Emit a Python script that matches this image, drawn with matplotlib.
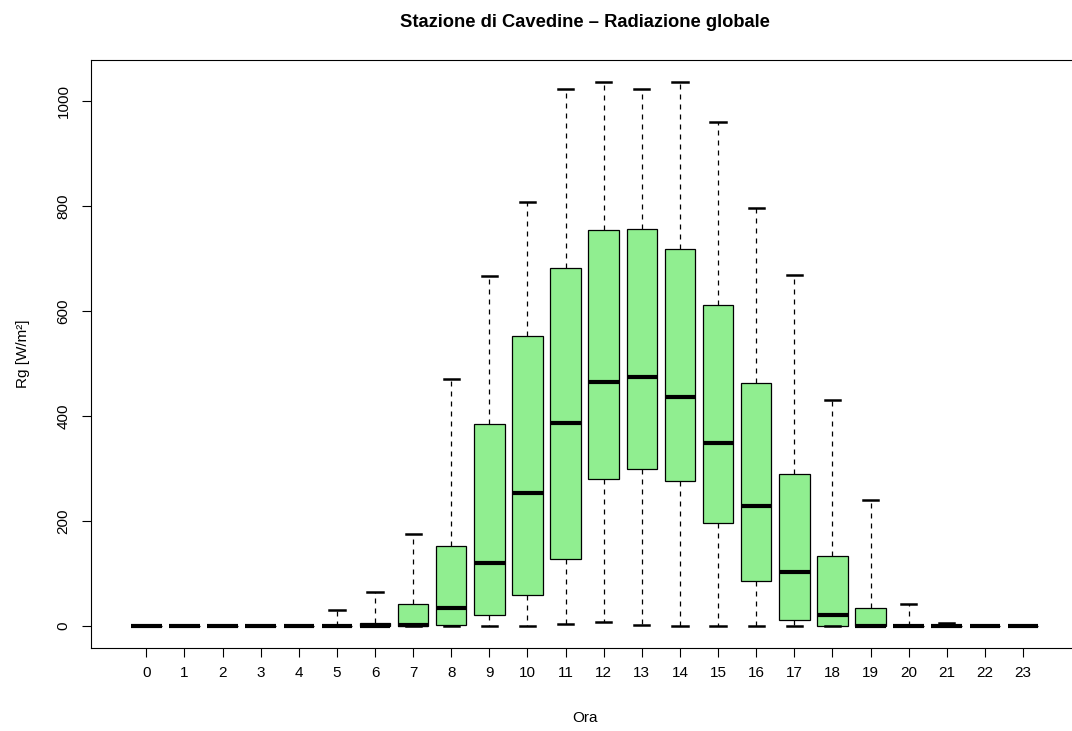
import matplotlib.pyplot as plt
import numpy as np

plt.rcParams['font.family'] = ['Liberation Sans', 'DejaVu Sans']

ore = list(range(24))
# statistiche (W/m2)
whislo = [0, 0, 0, 0, 0, 0, 0, 0, 0, 0, 0, 5, 8, 2, 0, 0, 0, 0, 0, 0, 0, 0, 0, 0]
q1 = [0, 0, 0, 0, 0, 0, 0, 0, 3, 22, 60, 128, 281, 300, 277, 197, 86, 11, 0, 0, 0, 0, 0, 0]
med = [0, 0, 0, 0, 0, 0, 1, 3, 34, 120, 253, 387, 464, 475, 436, 348, 228, 103, 22, 0, 0, 0, 0, 0]
q3 = [0, 0, 0, 0, 0, 0, 6, 42, 153, 384, 553, 682, 753, 756, 717, 611, 462, 289, 134, 34, 1, 1, 0, 0]
whishi = [0, 0, 0, 0, 0, 30, 66, 176, 470, 667, 808, 1022, 1036, 1022, 1036, 959, 795, 668, 430, 241, 42, 6, 0, 0]

stats = []
for i in range(len(ore)):
    stats.append(dict(med=med[i], q1=q1[i], q3=q3[i],
                      whislo=whislo[i], whishi=whishi[i], fliers=[]))

fig = plt.figure(figsize=(10.72, 7.31), dpi=100)
# il riquadro del grafico esce dal bordo destro, come nell'originale
ax = fig.add_axes([90.7/1072, 1-648/731, (1078.6-90.7)/1072, (648-60)/731])

pos = np.arange(1, len(ore)+1)
ax.bxp(stats, positions=pos, widths=0.8, patch_artist=True, showfliers=False,
       boxprops=dict(facecolor='#90EE90', edgecolor='black', linewidth=0.9),
       medianprops=dict(color='black', linewidth=3, solid_capstyle='butt'),
       whiskerprops=dict(color='black', linestyle=(0, (4, 4)), linewidth=0.9),
       capprops=dict(color='black', linewidth=1.8), capwidths=0.4)

ax.set_xlim(-0.46, 25.46)
ax.set_ylim(-41.4, 1077.4)
ax.set_xticks(pos)
ax.set_xticklabels([str(o) for o in ore])
ax.set_yticks([0, 200, 400, 600, 800, 1000])
ax.set_yticklabels(['0', '200', '400', '600', '800', '1000'], rotation=90, va='center')
ax.tick_params(direction='out', length=6.5, width=0.8, labelsize=11)
ax.tick_params(axis='x', pad=6.5)
ax.tick_params(axis='y', pad=8)
for s in ax.spines.values():
    s.set_linewidth(0.8)

ax.set_xlabel('Ora', fontsize=11, labelpad=22)
ax.set_ylabel('Rg [W/m²]', fontsize=11, labelpad=19)
ax.set_title('Stazione di Cavedine – Radiazione globale', fontsize=13.2, fontweight='bold', pad=24)

plt.savefig('out.png', dpi=100)
